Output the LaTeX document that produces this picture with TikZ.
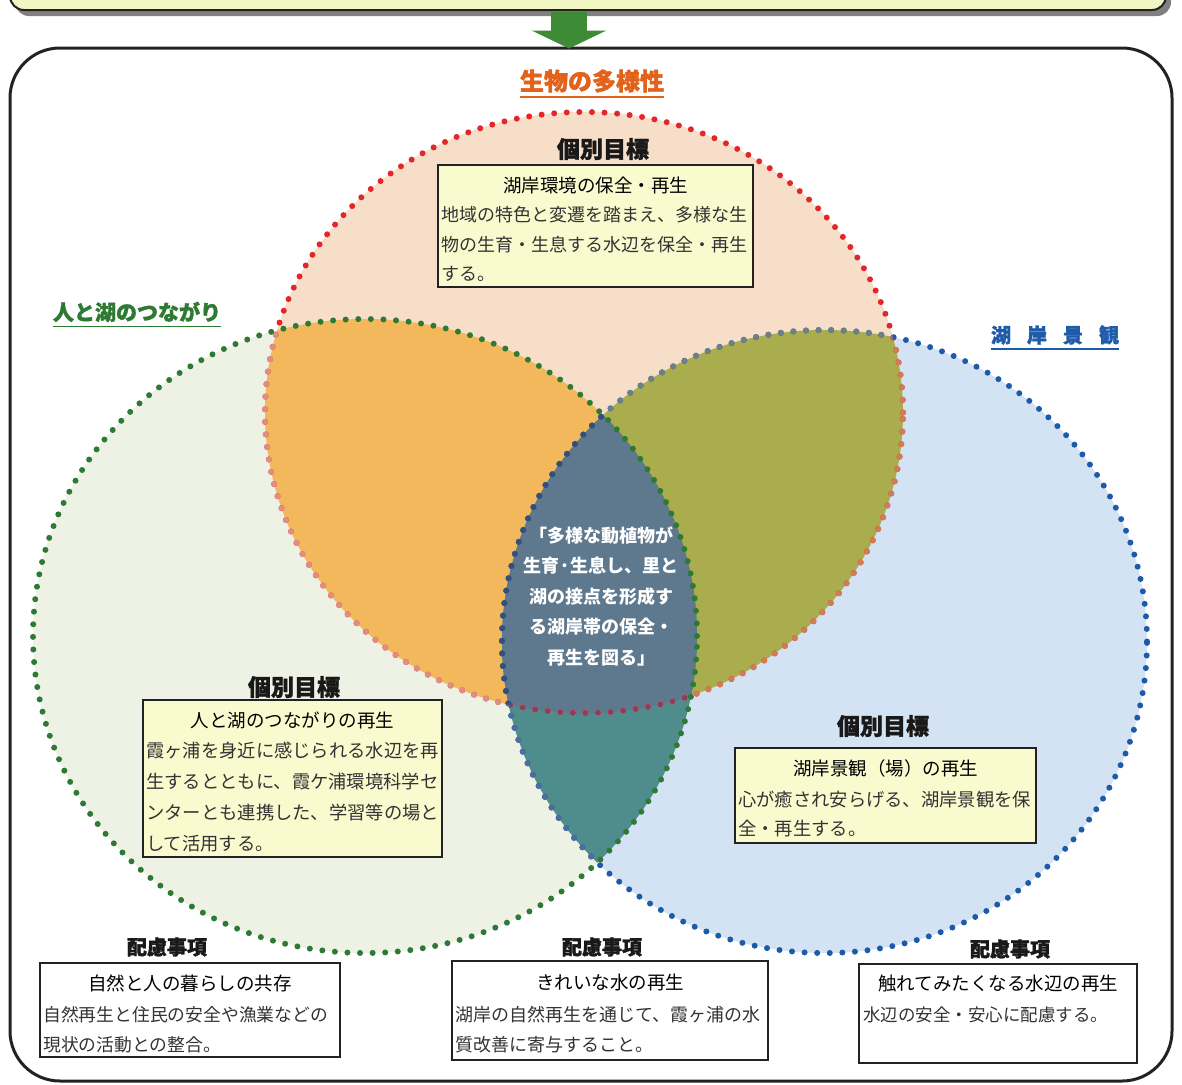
\documentclass[tikz,border=0pt]{standalone}
\usepackage{fontspec}
\newfontfamily\jp{Noto Sans CJK JP}
\newfontfamily\jpheavy{Noto Sans CJK JP}[FakeBold=1.5]
\usetikzlibrary{shadows,arrows.meta}
\definecolor{redonly}{HTML}{F6DEC8}
\definecolor{greenonly}{HTML}{EDF2E4}
\definecolor{blueonly}{HTML}{D4E3F3}
\definecolor{rgcol}{HTML}{F3B85C}
\definecolor{rbcol}{HTML}{A9AD4D}
\definecolor{gbcol}{HTML}{4F8D8D}
\definecolor{rgbcol}{HTML}{5E788D}
\definecolor{dotred}{HTML}{E3262A}
\definecolor{dotgreen}{HTML}{2E7A35}
\definecolor{dotblue}{HTML}{1D5BAA}
\definecolor{redinG}{HTML}{E08E84}
\definecolor{redinB}{HTML}{D07C55}
\definecolor{redinGB}{HTML}{8E3D5C}
\definecolor{blueinR}{HTML}{6E7F86}
\definecolor{blueinG}{HTML}{4A6E9E}
\definecolor{blueinRG}{HTML}{34507A}
\definecolor{boxyellow}{HTML}{F9FBCF}
\definecolor{topyellow}{HTML}{F1F6C2}
\definecolor{arrowgreen}{HTML}{3E8B36}
\definecolor{labred}{HTML}{E2611B}
\definecolor{labgreen}{HTML}{2F7A33}
\definecolor{labblue}{HTML}{1E5BA8}
\definecolor{framegray}{HTML}{222222}
\def\redE{(584,412.5) ellipse [x radius=319pt, y radius=300.5pt]}
\def\greenE{(365,636) ellipse [x radius=332pt, y radius=317pt]}
\def\blueE{(824.5,641.5) ellipse [x radius=322.5pt, y radius=311.5pt]}
\tikzset{
  dotline/.style={line width=6pt, line cap=round, dash pattern=on 0pt off 12.6pt},
  ybox/.style={draw=framegray, line width=1.6pt, fill=boxyellow, inner sep=0pt},
  wbox/.style={draw=framegray, line width=1.6pt, fill=white, inner sep=0pt},
  ttl/.style={font=\jp\fontsize{18.5}{22}\selectfont, text=black, inner sep=0pt},
  bdy/.style={font=\jp\fontsize{18}{29.5}\selectfont, text=black!80, align=left, inner sep=0pt, anchor=north west},
  goal/.style={font=\jpheavy\bfseries\fontsize{23}{26}\selectfont, text=black!90, inner sep=0pt},
  care/.style={font=\jpheavy\bfseries\fontsize{20}{24}\selectfont, text=black!90, inner sep=0pt},
  cat/.style={font=\jpheavy\bfseries\fontsize{#1}{26}\selectfont, inner sep=0pt},
}
\begin{document}
\begin{tikzpicture}[x=1pt,y=-1pt]
\useasboundingbox (0,0) rectangle (1182,1084);
\fill[white] (0,0) rectangle (1182,1084);
% top box (cut off) with shadow
\node[draw=framegray, line width=2pt, fill=topyellow, rounded corners=14pt,
      minimum width=1156pt, minimum height=51pt, inner sep=0pt,
      drop shadow={shadow xshift=5pt, shadow yshift=-6pt, fill=black!50, opacity=1}]
      (topbox) at (588,-15.5) {};
% outer frame
\node[draw=framegray, line width=3pt, rounded corners=50pt, minimum width=1162pt,
      minimum height=1033pt, inner sep=0pt] (frame) at (591,564.5) {};
% green arrow
\draw[arrowgreen, line width=36pt, -{Triangle[width=74pt,length=18pt]}]
  ([xshift=-19pt,yshift=-1pt]topbox.south) -- ([xshift=-22pt,yshift=-2pt]frame.north);
% region fills
\fill[redonly] \redE;
\fill[greenonly] \greenE;
\fill[blueonly] \blueE;
\begin{scope}\clip \redE; \fill[redonly] \redE; \fill[rgcol] \greenE; \fill[rbcol] \blueE; \end{scope}
\begin{scope}\clip \greenE; \fill[gbcol] \blueE; \end{scope}
\begin{scope}\clip \redE; \clip \greenE; \fill[rgbcol] \blueE; \end{scope}
% dotted outlines
\draw[dotline, dotred] \redE;
\begin{scope}\clip \greenE; \draw[dotline, redinG] \redE; \end{scope}
\begin{scope}\clip \blueE; \draw[dotline, redinB] \redE; \end{scope}
\begin{scope}\clip \greenE; \clip \blueE; \draw[dotline, redinGB] \redE; \end{scope}
\draw[dotline, dotblue] \blueE;
\begin{scope}\clip \redE; \draw[dotline, blueinR] \blueE; \end{scope}
\begin{scope}\clip \greenE; \draw[dotline, blueinG] \blueE; \end{scope}
\begin{scope}\clip \redE; \clip \greenE; \draw[dotline, blueinRG] \blueE; \end{scope}
\draw[dotline, dotgreen] \greenE;
% category labels
\node[cat=24, text=labred] (labR) at (592,81) {生物の多様性};
\draw[labred, line width=1.8pt] ([yshift=-4pt]labR.south west) -- ([yshift=-4pt]labR.south east);
\node[cat=21, text=labgreen] (labG) at (137,312) {人と湖のつながり};
\draw[labgreen, line width=1.8pt] ([yshift=-4pt]labG.south west) -- ([yshift=-4pt]labG.south east);
\node[cat=20, text=labblue] (labB) at (1055,335) {湖\hspace{16pt}岸\hspace{16pt}景\hspace{16pt}観};
\draw[labblue, line width=1.8pt] ([yshift=-4pt]labB.south west) -- ([yshift=-4pt]labB.south east);
% top goal box
\node[goal] (goalR) at (603,149) {個別目標};
\node[ybox, minimum width=315pt, minimum height=122pt] (boxR) at (595.5,226) {};
\node[ttl] (ttlR) at (595.5,185) {湖岸環境の保全・再生};
\node[bdy] (bdyR) at (441,206.5) {地域の特色と変遷を踏まえ、多様な生\\物の生育・生息する水辺を保全・再生\\する。};
% left goal box
\node[goal] (goalG) at (294,687) {個別目標};
\node[ybox, minimum width=299pt, minimum height=157pt] (boxG) at (292.5,778.5) {};
\node[ttl] (ttlG) at (292.5,720) {人と湖のつながりの再生};
\node[bdy, font=\jp\fontsize{18.3}{31}\selectfont] (bdyG) at (146,741.5) {霞ヶ浦を身近に感じられる水辺を再\\生するとともに、霞ケ浦環境科学セ\\ンターとも連携した、学習等の場と\\して活用する。};
% right goal box
\node[goal] (goalB) at (883,726) {個別目標};
\node[ybox, minimum width=301pt, minimum height=95pt] (boxB) at (885.5,795.5) {};
\node[ttl] (ttlB) at (885.5,768) {湖岸景観（場）の再生};
\node[bdy, font=\jp\fontsize{18.3}{29.5}\selectfont] (bdyB) at (738,790.5) {心が癒され安らげる、湖岸景観を保\\全・再生する。};
% centre text
\node[font=\jp\bfseries\fontsize{18}{30.5}\selectfont, text=white, align=center, inner sep=0pt] (core) at (601,596)
  {「多様な動植物が\\生育·生息し、里と\\湖の接点を形成す\\る湖岸帯の保全・\\再生を図る」};
% bottom boxes
\node[care] (careL) at (167,947) {配慮事項};
\node[wbox, minimum width=300pt, minimum height=94pt] (boxL) at (190,1010) {};
\node[ttl] (ttlL) at (190,983) {自然と人の暮らしの共存};
\node[bdy, font=\jp\fontsize{17.8}{30}\selectfont] (bdyL) at (43,1006.5) {自然再生と住民の安全や漁業などの\\現状の活動との整合。};
\node[care] (careM) at (602,947) {配慮事項};
\node[wbox, minimum width=316pt, minimum height=99pt] (boxM) at (610,1010.5) {};
\node[ttl] (ttlM) at (610,982) {きれいな水の再生};
\node[bdy] (bdyM) at (455,1006.5) {湖岸の自然再生を通じて、霞ヶ浦の水\\質改善に寄与すること。};
\node[care] (careRt) at (1010,949) {配慮事項};
\node[wbox, minimum width=278pt, minimum height=99pt] (boxRt) at (998,1013.5) {};
\node[ttl] (ttlRt) at (998,983) {触れてみたくなる水辺の再生};
\node[bdy, font=\jp\fontsize{17.5}{30}\selectfont] (bdyRt) at (863,1006.5) {水辺の安全・安心に配慮する。};
\end{tikzpicture}
\end{document}
